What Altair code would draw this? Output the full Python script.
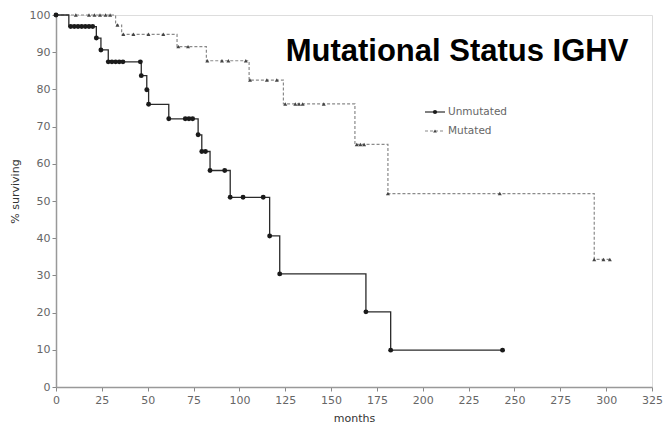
import altair as alt
import pandas as pd

# ---- Kaplan-Meier step curves (months, % surviving) ----
unmut_t = [0, 7, 22, 24.5, 28.5, 46.5, 49.5, 50.5, 61.5, 77.5, 79.5, 84, 95, 116.5, 122, 169, 182.5, 243.5]
unmut_s = [100, 96.9, 93.8, 90.6, 87.4, 83.7, 79.9, 76.0, 72.1, 67.8, 63.3, 58.2, 51.0, 40.6, 30.4, 20.2, 9.9, 9.9]

mut_t = [0, 32.5, 35.8, 66, 82, 105.3, 124, 163, 181, 293.5, 302]
mut_s = [100, 97.3, 94.8, 91.5, 87.7, 82.5, 76.1, 65.2, 52.0, 34.3, 34.3]

# ---- markers (events and censored cases) ----
unmut_mt = [0, 8, 10, 12, 14, 16, 18, 20, 22, 24.5, 28.5, 30.5, 32.5, 34.5, 36.5, 46, 46.5, 49.5, 50.5,
            61.5, 70.5, 72.5, 74.5, 77.5, 79.5, 81.5, 84, 92, 95, 102, 113, 116.5, 122, 169, 182.5, 243.5]
unmut_ms = [100, 96.9, 96.9, 96.9, 96.9, 96.9, 96.9, 96.9, 93.8, 90.6, 87.4, 87.4, 87.4, 87.4, 87.4, 87.4, 83.7, 79.9, 76.0,
            72.1, 72.1, 72.1, 72.1, 67.8, 63.3, 63.3, 58.2, 58.2, 51.0, 51.0, 51.0, 40.6, 30.4, 20.2, 9.9, 9.9]

mut_mt = [0, 10.8, 18, 21, 24, 27, 29.5, 33.5, 36.7, 42.2, 50.4, 58.5, 66.7, 72, 82.5, 90.5, 94, 103.5,
          105.8, 115, 120.4, 125, 130.5, 132.5, 134.5, 146, 164, 166, 168, 181, 242, 293.5, 298.5, 302]
mut_ms = [100, 100, 100, 100, 100, 100, 100, 97.3, 94.8, 94.8, 94.8, 94.8, 91.5, 91.5, 87.7, 87.7, 87.7, 87.7,
          82.5, 82.5, 82.5, 76.1, 76.1, 76.1, 76.1, 76.1, 65.2, 65.2, 65.2, 52.0, 52.0, 34.3, 34.3, 34.3]

x_ticks = [0, 25, 50, 75, 100, 125, 150, 175, 200, 225, 250, 275, 300, 325]
y_ticks = [0, 10, 20, 30, 40, 50, 60, 70, 80, 90, 100]

title_text = "Mutational Status IGHV"
legend_labels = ["Unmutated", "Mutated"]

W, H = 596, 372

unmut_line = pd.DataFrame({"months": unmut_t, "surv": unmut_s})
mut_line = pd.DataFrame({"months": mut_t, "surv": mut_s})
unmut_pts = pd.DataFrame({"months": unmut_mt, "surv": unmut_ms})
mut_pts = pd.DataFrame({"months": mut_mt, "surv": mut_ms})

font = "DejaVu Sans"
xscale = alt.Scale(domain=[0, 325], nice=False, zero=False)
yscale = alt.Scale(domain=[0, 100], nice=False)

xaxis = alt.Axis(values=x_ticks, title="months", grid=False, tickSize=4, tickColor="#888",
                 domainColor="#999", domainWidth=1.5, labelColor="#666", labelFont=font,
                 labelFontSize=11, titleFont=font, titleFontSize=11, titleFontWeight="normal",
                 titleColor="#333", titlePadding=7, labelPadding=3, labelOverlap=False, labelFlush=False)
yaxis = alt.Axis(values=y_ticks, tickCount=11, title="% surviving", grid=False, tickSize=4, tickColor="#888",
                 domainColor="#999", domainWidth=1.5, labelColor="#666", labelFont=font,
                 labelFontSize=11, titleFont=font, titleFontSize=11, titleFontWeight="normal",
                 titleColor="#333", titlePadding=9, labelPadding=2, labelOverlap=False, labelFlush=False,
                 titleY=176)

enc_x = alt.X("months:Q", scale=xscale, axis=xaxis)
enc_y = alt.Y("surv:Q", scale=yscale, axis=yaxis)

l_unmut = alt.Chart(unmut_line).mark_line(interpolate="step-after", color="#2a2a2a", strokeWidth=1.3).encode(
    x=enc_x, y=enc_y)
l_mut = alt.Chart(mut_line).mark_line(interpolate="step-after", color="#8a8a8a", strokeWidth=1.2,
                                      strokeDash=[3, 2]).encode(x=enc_x, y=enc_y)
p_unmut = alt.Chart(unmut_pts).mark_point(shape="circle", filled=True, color="#1a1a1a", size=24, opacity=1).encode(
    x=enc_x, y=enc_y)
p_mut = alt.Chart(mut_pts).mark_point(shape="triangle-up", filled=True, color="#444", size=16, opacity=1).encode(
    x=enc_x, y=enc_y)

one = pd.DataFrame({"k": [0]})
title = alt.Chart(one).mark_text(text=title_text, font="Liberation Sans", fontSize=31, fontWeight="bold",
                                 color="#000", align="center", baseline="alphabetic").encode(
    x=alt.value(401), y=alt.value(46))

leg_y = [97, 116]
leg_layers = []
for i, lab in enumerate(legend_labels):
    if i == 0:
        rule = alt.Chart(one).mark_rule(color="#2a2a2a", strokeWidth=1.2)
        sym = alt.Chart(one).mark_point(shape="circle", filled=True, color="#1a1a1a", size=18, opacity=1)
    else:
        rule = alt.Chart(one).mark_rule(color="#8a8a8a", strokeWidth=1.1, strokeDash=[3, 2])
        sym = alt.Chart(one).mark_point(shape="triangle-up", filled=True, color="#444", size=14, opacity=1)
    leg_layers.append(rule.encode(x=alt.value(369), x2=alt.value(389), y=alt.value(leg_y[i])))
    leg_layers.append(sym.encode(x=alt.value(379), y=alt.value(leg_y[i])))
    leg_layers.append(alt.Chart(one).mark_text(text=lab, font=font, fontSize=10.5, color="#666",
                                               align="left", baseline="middle").encode(
        x=alt.value(392), y=alt.value(leg_y[i])))

chart = alt.layer(l_mut, l_unmut, p_mut, p_unmut, title, *leg_layers).properties(
    width=W, height=H,
    autosize=alt.AutoSizeParams(type="none"),
    padding={"left": 56, "top": 15, "right": 13, "bottom": 37},
).configure_view(stroke=None).configure(background="white")

chart.save("out.html", embed_options={"renderer": "svg", "actions": False})
